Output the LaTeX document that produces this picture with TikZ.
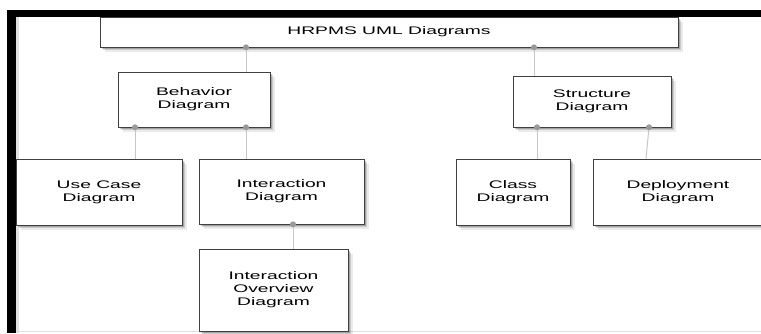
\documentclass[tikz,border=0pt]{standalone}
\usepackage{fontspec}
\newfontfamily\widesans[FakeStretch=1.75]{Liberation Sans}
\usetikzlibrary{shadows}
\tikzset{
  softshadow/.style={
    general shadow={shadow xshift=1.5pt, shadow yshift=-1.5pt, fill=black, opacity=0.18},
    general shadow={shadow xshift=3pt, shadow yshift=-3pt, fill=black, opacity=0.14},
    general shadow={shadow xshift=4.5pt, shadow yshift=-4.5pt, fill=black, opacity=0.08}},
  box/.style={draw=black!75, line width=0.6pt, fill=white, align=center,
    font=\widesans\fontsize{11}{13}\selectfont, inner sep=0pt, softshadow},
  link/.style={draw=black!22, line width=1pt},
  knob/.style={fill=black!40, draw=none}
}
\begin{document}
\begin{tikzpicture}[x=1pt,y=-1pt]
\useasboundingbox (0,0) rectangle (761,333);
\fill[white] (0,0) rectangle (761,333);
% frame
\fill[black] (7,10) rectangle (761,17);
\fill[black] (7,10) rectangle (16,333);
\fill[black!12] (16,17) rectangle (19,333);
\draw[black!12, line width=1pt] (16,331) -- (761,331);
% nodes
\node[box, minimum width=578pt, minimum height=30pt] (hr) at (389,32) {HRPMS UML Diagrams};
\node[box, minimum width=152pt, minimum height=55pt] (beh) at (194,99.5) {Behavior\\Diagram};
\node[box, minimum width=158pt, minimum height=51pt] (str) at (592,101.5) {Structure\\Diagram};
\node[box, minimum width=166pt, minimum height=66pt] (uc) at (99,192) {Use Case\\Diagram};
\node[box, minimum width=165pt, minimum height=65pt] (ia) at (281.5,191.5) {Interaction\\Diagram};
\node[box, minimum width=149pt, minimum height=82pt] (io) at (273.5,290) {Interaction\\Overview\\Diagram};
\node[box, minimum width=114pt, minimum height=66pt] (cl) at (513,192) {Class\\Diagram};
\node[box, minimum width=170pt, minimum height=66pt] (dp) at (678,192) {Deployment\\Diagram};
% connectors
\draw[link] (hr.south -| 246,0) -- (beh.north -| 246,0);
\draw[link] (hr.south -| 534,0) -- (str.north -| 534,0);
\draw[link] (beh.south -| 135,0) -- (uc.north -| 135,0);
\draw[link] (beh.south -| 246,0) -- (ia.north -| 246,0);
\draw[link] (str.south -| 537,0) -- (cl.north -| 537,0);
\draw[link] (str.south -| 649,0) -- (dp.north -| 646,0);
\draw[link] (ia.south -| 293,0) -- (io.north -| 293,0);
% connector knobs
\fill[knob] (hr.south -| 246,0) circle (3pt);
\fill[knob] (hr.south -| 534,0) circle (3pt);
\fill[knob] (beh.south -| 135,0) circle (3pt);
\fill[knob] (beh.south -| 246,0) circle (3pt);
\fill[knob] (str.south -| 537,0) circle (3pt);
\fill[knob] (str.south -| 649,0) circle (3pt);
\fill[knob] (ia.south -| 293,0) circle (3pt);
\end{tikzpicture}
\end{document}
